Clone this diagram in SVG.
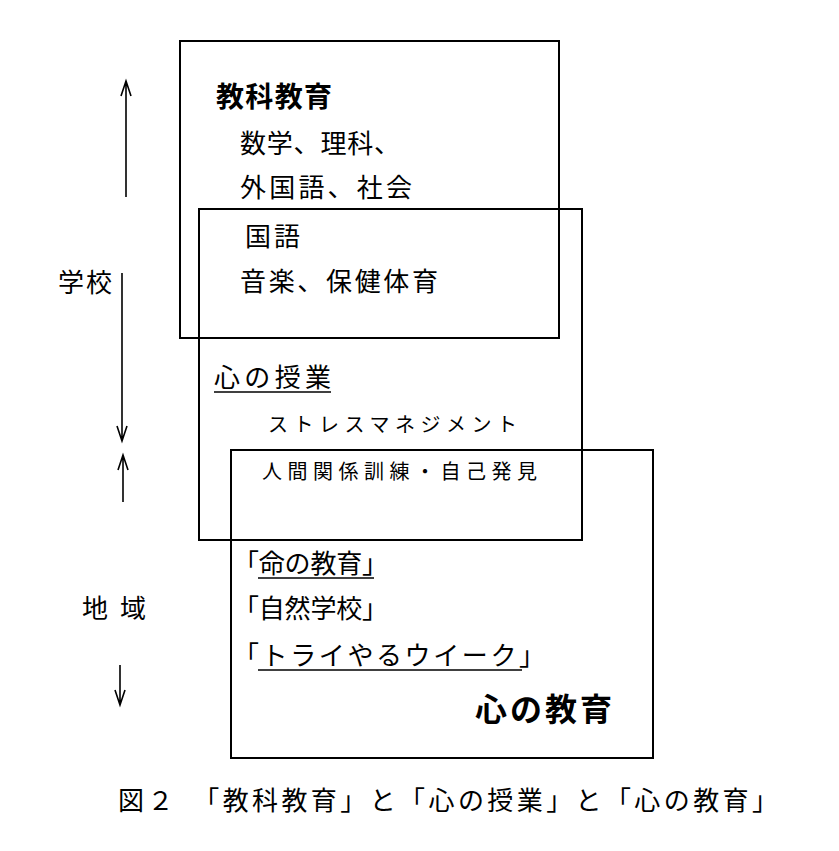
<svg xmlns="http://www.w3.org/2000/svg" width="839" height="851" viewBox="0 0 839 851">
<style>
text{font-family:"Noto Sans CJK JP","Noto Sans CJK SC",sans-serif;fill:#000}
.b{fill:none;stroke:#000;stroke-width:2}
.a{fill:none;stroke:#000;stroke-width:1.6}
.t{font-size:26px}
.s{font-size:20px}
.u{stroke:#000;stroke-width:1.6}
</style>
<rect width="839" height="851" fill="#fff"/>
<g id="box1"><rect class="b" x="180" y="41" width="379" height="297"/>
<text x="216" y="107" font-size="28" font-weight="bold" textLength="116">教科教育</text>
<text class="t" x="240" y="153" textLength="160">数学、理科、</text>
<text class="t" x="240" y="197" textLength="172">外国語、社会</text></g>
<g id="box2"><rect class="b" x="199" y="209" width="383" height="331"/>
<text class="t" x="245" y="246" textLength="55">国語</text>
<text class="t" x="240" y="291" textLength="198">音楽、保健体育</text>
<text class="t" x="214" y="387" textLength="117">心の授業</text><line class="u" x1="214" y1="392" x2="331" y2="392"/>
<text class="s" x="268" y="432" textLength="249">ストレスマネジメント</text></g>
<g id="box3"><rect class="b" x="231" y="450" width="422" height="308"/>
<text class="s" x="262" y="479" textLength="275">人間関係訓練・自己発見</text>
<text class="t" x="233" y="573" textLength="155">「命の教育」</text><line class="u" x1="258" y1="578" x2="374" y2="578"/>
<text class="t" x="233" y="618" textLength="155">「自然学校」</text>
<text class="t" x="233" y="665" textLength="312">「トライやるウイーク」</text><line class="u" x1="258" y1="670" x2="522" y2="670"/>
<text x="475" y="721" font-size="32" font-weight="bold" textLength="137">心の教育</text></g>
<g id="labels">
<text class="t" x="58" y="292" textLength="54">学校</text>
<text class="t" x="82" y="618" textLength="64">地域</text>
<text class="t" x="118" y="810" textLength="660">図２　「教科教育」と「心の授業」と「心の教育」</text></g>
<g id="connectors">
<path class="a" d="M126 197V81M121 96L126 81L131 96"/>
<path class="a" d="M122 273V441M117 426L122 441L127 426"/>
<path class="a" d="M123 502V455M118 470L123 455L128 470"/>
<path class="a" d="M120 665V705M115 690L120 705L125 690"/>
</g>
</svg>
